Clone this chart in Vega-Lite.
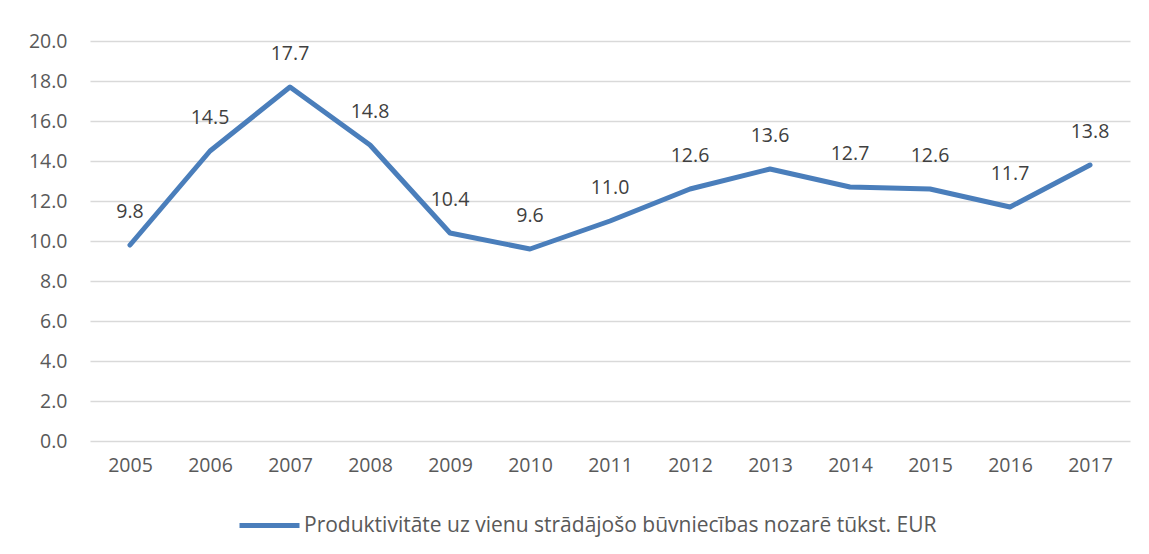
{
  "$schema": "https://vega.github.io/schema/vega-lite/v6.json",
  "autosize": {"type": "none"},
  "width": 1040,
  "height": 400,
  "padding": {"left": 90, "top": 41, "right": 19, "bottom": 113},
  "background": "white",
  "config": {
    "font": "Open Sans",
    "view": {"stroke": null},
    "axis": {"labelFont": "Open Sans", "labelColor": "#595959", "labelFontSize": 19.5}
  },
  "data": {
    "values": [
      {"year": "2005", "value": 9.8, "series": "Produktivitāte uz vienu strādājošo būvniecības nozarē tūkst. EUR"},
      {"year": "2006", "value": 14.5, "series": "Produktivitāte uz vienu strādājošo būvniecības nozarē tūkst. EUR"},
      {"year": "2007", "value": 17.7, "series": "Produktivitāte uz vienu strādājošo būvniecības nozarē tūkst. EUR"},
      {"year": "2008", "value": 14.8, "series": "Produktivitāte uz vienu strādājošo būvniecības nozarē tūkst. EUR"},
      {"year": "2009", "value": 10.4, "series": "Produktivitāte uz vienu strādājošo būvniecības nozarē tūkst. EUR"},
      {"year": "2010", "value": 9.6, "series": "Produktivitāte uz vienu strādājošo būvniecības nozarē tūkst. EUR"},
      {"year": "2011", "value": 11.0, "series": "Produktivitāte uz vienu strādājošo būvniecības nozarē tūkst. EUR"},
      {"year": "2012", "value": 12.6, "series": "Produktivitāte uz vienu strādājošo būvniecības nozarē tūkst. EUR"},
      {"year": "2013", "value": 13.6, "series": "Produktivitāte uz vienu strādājošo būvniecības nozarē tūkst. EUR"},
      {"year": "2014", "value": 12.7, "series": "Produktivitāte uz vienu strādājošo būvniecības nozarē tūkst. EUR"},
      {"year": "2015", "value": 12.6, "series": "Produktivitāte uz vienu strādājošo būvniecības nozarē tūkst. EUR"},
      {"year": "2016", "value": 11.7, "series": "Produktivitāte uz vienu strādājošo būvniecības nozarē tūkst. EUR"},
      {"year": "2017", "value": 13.8, "series": "Produktivitāte uz vienu strādājošo būvniecības nozarē tūkst. EUR"}
    ]
  },
  "encoding": {
    "x": {
      "field": "year", "type": "ordinal",
      "scale": {"type": "point", "padding": 0.5},
      "axis": {"title": null, "labelAngle": 0, "ticks": false, "domain": false, "grid": false, "labelPadding": 15}
    },
    "y": {
      "field": "value", "type": "quantitative",
      "scale": {"domain": [0, 20], "nice": false, "zero": true},
      "axis": {"title": null, "values": [0, 2, 4, 6, 8, 10, 12, 14, 16, 18, 20], "format": ".1f", "ticks": false, "domain": false, "gridColor": "#d9d9d9", "gridWidth": 1.5, "labelPadding": 23}
    }
  },
  "layer": [
    {
      "mark": {"type": "line", "strokeWidth": 5, "strokeCap": "round", "strokeJoin": "round"},
      "encoding": {
        "color": {
          "field": "series", "type": "nominal",
          "scale": {"range": ["#4a7ebb"]},
          "legend": {
            "title": null, "orient": "none", "legendX": 147, "legendY": 452,
            "direction": "horizontal", "symbolType": "stroke", "symbolSize": 3600,
            "symbolStrokeWidth": 5, "labelFontSize": 21, "labelColor": "#595959",
            "labelFont": "Open Sans", "labelOffset": 2, "labelLimit": 1000
          }
        }
      }
    },
    {
      "mark": {"type": "text", "dy": -33, "fontSize": 19.5, "color": "#404040", "font": "Open Sans"},
      "encoding": {"text": {"field": "value", "type": "quantitative", "format": ".1f"}}
    }
  ]
}
